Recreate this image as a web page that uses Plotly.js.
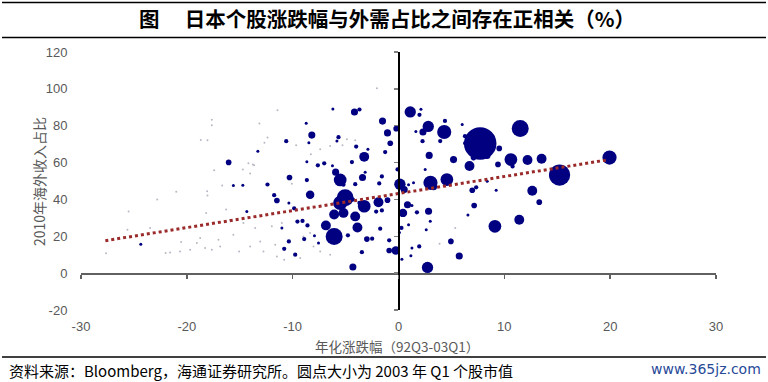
<!DOCTYPE html>
<html>
<head>
<meta charset="utf-8">
<script src="https://cdn.plot.ly/plotly-3.0.1.min.js"></script>
<style>html,body{margin:0;padding:0;background:#fff;}#chart{width:768px;height:382px;}</style>
</head>
<body>
<div id="chart"></div>
<script>
// ---- data ----
const chartTitle = '图　 日本个股涨跌幅与外需占比之间存在正相关（%）';
const xTitle = '年化涨跌幅（92Q3-03Q1）';
const yTitle = '2010年海外收入占比';
const sourceNote = '资料来源：Bloomberg，海通证券研究所。圆点大小为 2003 年 Q1 个股市值';
const watermark = 'www.365jz.com';

const xTicks = [-30, -20, -10, 0, 10, 20, 30];
const xTickLabels = ['-30', '-20', '-10', '0', '10', '20', '30'];
const yTicks = [-20, 0, 20, 40, 60, 80, 100, 120];
const yTickLabels = ['-20', '0', '20', '40', '60', '80', '100', '120'];

// annualised return (x) and 2010 overseas revenue share (y); cap = relative 2003Q1 market value
const stockX = [1.11,2.12,1.98,2.81,2.31,4.32,4.39,2.27,3.94,6.28,7.72,8.36,9.52,11.50,2.90,5.20,7.09,6.71,6.30,10.62,12.19,13.52,9.40,10.78,19.94,15.22,12.64,13.30,4.57,3.02,3.31,0.13,0.54,0.95,2.52,-0.09,6.97,7.34,9.23,8.38,7.15,0.85,0.42,1.74,2.84,6.56,9.11,11.41,0.28,-0.22,-0.88,-0.26,-0.88,2.74,4.95,5.74,1.96,-4.16,-3.69,-1.51,-1.04,-8.19,-5.67,-5.82,-0.78,-4.00,-1.26,-2.89,-3.24,-4.40,-7.62,-7.02,-6.24,-5.94,-5.51,-3.40,-1.57,-4.09,-1.82,-3.15,-5.20,-8.35,-5.04,-5.51,-3.24,-1.89,-1.04,-3.69,-4.31,-5.20,-6.08,-4.09,-1.57,-2.11,-6.86,-3.88,-1.73,-6.08,-4.78,-2.99,-2.49,-7.56,-3.46,-4.31,-15.60,-14.71,-12.38,-8.66,-11.75,-11.49,-10.36,-9.86,-9.55,-9.07,-8.60,-11.02,-8.91,-10.36,-10.80,-9.76,-7.94,-10.61,-13.29,-16.05,-8.66,-8.47,-10.30,-24.35,-14.33,-8.72,0.09,1.27,1.17,0.32,3.00,2.62,0.95,1.42,1.27,1.64,6.02,-6.20];
const stockY = [87.5,89.0,85.9,79.6,76.6,76.6,82.6,71.6,71.7,74.3,70.3,63.9,67.7,78.5,63.9,61.6,62.7,58.1,70.5,61.6,61.4,62.1,59.0,57.9,62.7,53.2,44.7,38.5,50.8,49.0,46.9,48.3,45.4,48.0,56.3,56.3,45.0,46.6,45.0,49.9,36.7,37.1,32.7,33.0,33.6,31.6,25.4,29.0,24.5,78.4,12.3,12.3,17.8,3.1,17.2,9.3,14.5,87.4,88.8,82.5,76.1,74.9,73.8,71.7,70.5,68.7,65.7,67.2,63.1,60.3,58.5,59.6,58.3,54.8,50.6,51.9,52.5,48.3,48.7,54.8,48.0,42.5,40.9,38.1,36.3,38.5,39.6,38.1,39.9,32.7,31.8,30.8,34.0,33.4,25.9,24.8,24.1,19.9,20.5,18.5,18.7,16.3,11.4,3.3,47.6,47.7,48.1,50.5,42.3,39.4,38.1,35.2,28.0,28.3,25.9,24.5,18.5,17.2,13.2,10.0,20.3,71.6,66.1,60.1,60.5,70.8,51.9,15.7,33.4,81.4,22.1,13.6,9.4,7.6,28.1,23.6,26.3,49.0,36.7,76.8,80.7,89.1];
const stockCap = [64,4,9,64,25,100,9,9,9,9,529,25,16,144,25,25,16,49,9,81,49,49,16,9,100,225,49,16,81,100,25,64,25,4,4,9,16,9,4,4,16,25,36,9,25,4,81,49,9,16,16,36,9,64,16,25,9,25,9,25,25,25,9,4,16,9,9,4,49,9,9,9,4,25,81,25,9,9,9,4,9,36,144,100,81,49,16,9,9,49,49,49,9,9,49,49,9,144,9,16,9,4,9,25,4,4,9,9,9,16,4,9,9,9,9,4,9,9,9,9,4,9,4,16,4,4,16,4,4,4,4,2.25,2.25,2.25,2.25,2.25,2.25,2.25,2.25,2.25,2.25,2.25];

// faint small-cap stocks
const smallX = [-18.05,-17.42,-18.08,-18.05,-18.18,-16.29,-23.47,-25.61,-27.63,-19.05,-18.27,-17.64,-16.85,-19.69,-18.74,-17.01,-22.00,-20.64,-20.54,-21.58,-15.60,-15.06,-14.02,-13.07,-12.76,-11.65,-11.49,-10.80,-13.54,-14.65,-15.91,-16.66,-11.02,-8.98,-8.03,-7.40,-6.46,-9.29,-11.97,-8.35,-11.44,-13.14,-12.38,-12.67,-9.67,-8.28,-14.18,-13.64,-14.71,-14.02,-10.08,-2.04,-17.64,-17.64,-18.68,-13.76,-7.40,-6.46,-5.29,-4.88,-4.09,3.88,5.36,4.95,-21.0,-22.8,-25.5,-27.06];
const smallY = [72.1,55.9,44.5,42.1,32.7,34.5,24.5,23.6,10.8,16.3,13.6,12.7,14.5,12.7,19.1,18.1,10.9,11.8,16.9,11.2,20.9,11.8,14.5,17.2,11.8,15.4,9.0,7.2,24.5,27.2,29.0,47.6,27.2,19.9,14.5,11.8,10.0,8.2,25.4,21.8,88.4,81.2,73.6,70.8,69.4,64.5,59.6,58.5,56.3,54.1,48.5,100.3,83.2,80.3,72.3,59.0,67.2,69.0,69.4,72.6,72.1,16.0,24.5,18.5,44.2,39.9,33.4,18.1];

// linear trend
const trendX = [-27.7, 19.7];
const trendY = [17.6, 61.4];

// ---- chart ----
const gray = '#595959';
const cjk = '"Noto Sans CJK SC", sans-serif';
const traces = [
  {type:'scatter', mode:'markers', x: smallX, y: smallY, hoverinfo:'skip',
   marker:{size:2, color:'#b8b8c4', opacity:1}},
  {type:'scatter', mode:'markers', x: stockX, y: stockY,
   marker:{size: stockCap, sizemode:'area', sizeref:1, sizemin:1.5, color:'#000080', opacity:1, line:{width:0}}},
  {type:'scatter', mode:'lines', x: trendX, y: trendY, xaxis:'x2', yaxis:'y2',
   line:{color:'#9B2B2B', width:3, dash:'dot'}}
];

const L = 81, R = 52, T = 52, B = 72, W = 768, H = 382;
const pw = W - L - R, ph = H - T - B;
const fx = p => (p - L) / pw;
const fy = p => (H - B - p) / ph;

const layout = {
  width: W, height: H,
  margin: {l: L, r: R, t: T, b: B},
  paper_bgcolor: '#fff', plot_bgcolor: '#fff',
  showlegend: false,
  font: {family: 'Arial, "Liberation Sans", sans-serif', color: gray},
  title: {text: '<b>' + chartTitle + '</b>', x: 387 / W, xanchor: 'center', xref: 'container',
          y: 1 - 20 / H, yref: 'container', yanchor: 'middle',
          font: {family: cjk, size: 20.5, color: '#000'}},
  xaxis: {range: [-30, 30], tickvals: xTicks, ticktext: xTickLabels, ticks: 'outside', ticklen: 4, tickcolor: 'rgba(0,0,0,0)',
          showline: false, showgrid: false, zeroline: false,
          tickfont: {size: 13, color: gray}},
  yaxis: {range: [-20, 120], tickvals: yTicks, ticktext: yTickLabels, ticks: 'outside', ticklen: 10, tickcolor: 'rgba(0,0,0,0)',
          showline: false, showgrid: false, zeroline: false,
          tickfont: {size: 13, color: gray}},
  xaxis2: {overlaying: 'x', anchor: 'free', position: 1 / 7, side: 'bottom',
           range: [-30, 30], tickvals: xTicks, ticks: 'outside', ticklen: 4, tickwidth: 1.5, tickcolor: '#606060',
           showline: true, linecolor: '#606060', linewidth: 1.5,
           showticklabels: false, showgrid: false, zeroline: false},
  yaxis2: {overlaying: 'y', anchor: 'free', position: 0.5, side: 'left',
           range: [-20, 120], tickvals: yTicks, ticks: 'outside', ticklen: 4, tickwidth: 1.5, tickcolor: '#808080',
           showline: true, linecolor: '#000', linewidth: 2,
           showticklabels: false, showgrid: false, zeroline: false},
  shapes: [
    {type:'line', xref:'paper', yref:'paper', x0: fx(2), x1: fx(766), y0: fy(2.5), y1: fy(2.5), line:{color:'#000', width:1.5}},
    {type:'line', xref:'paper', yref:'paper', x0: fx(2), x1: fx(766), y0: fy(37.5), y1: fy(37.5), line:{color:'#000', width:1.5}},
    {type:'line', xref:'paper', yref:'paper', x0: fx(2), x1: fx(766), y0: fy(357), y1: fy(357), line:{color:'#000', width:1.5}}
  ],
  annotations: [
    {text: xTitle, xref:'paper', yref:'paper', x: fx(397), y: fy(346), xanchor:'center', yanchor:'middle', showarrow:false,
     font:{family: cjk, size:13.5, color: gray}},
    {text: yTitle, xref:'paper', yref:'paper', x: fx(39), y: fy(182), xanchor:'center', yanchor:'middle', textangle:-90, showarrow:false,
     font:{family: cjk, size:14, color: gray}},
    {text: sourceNote, xref:'paper', yref:'paper', x: fx(7), y: fy(370), xanchor:'left', yanchor:'middle', showarrow:false,
     font:{family: cjk, size:15, color:'#000'}},
    {text: watermark, xref:'paper', yref:'paper', x: fx(763), y: fy(369), xanchor:'right', yanchor:'middle', showarrow:false,
     font:{family:'"DejaVu Sans", Verdana, sans-serif', size:14, color:'#274a98'}}
  ]
};

Plotly.newPlot('chart', traces, layout, {displayModeBar: false, staticPlot: true});
</script>
</body>
</html>
